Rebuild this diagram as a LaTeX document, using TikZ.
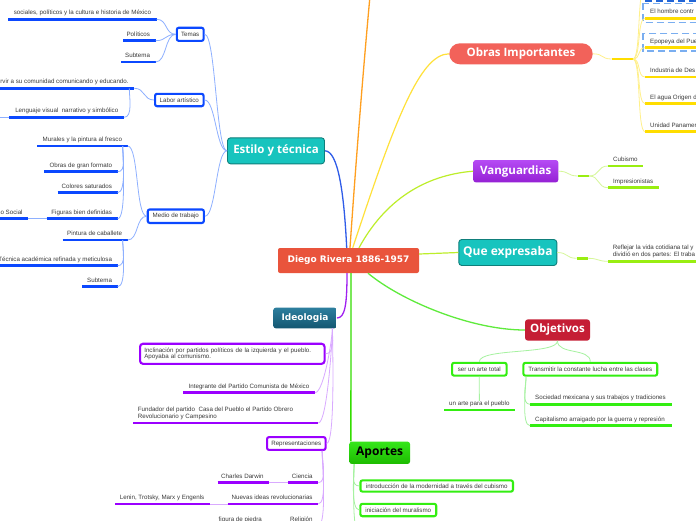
\documentclass[tikz,border=0pt]{standalone}
\usepackage{fontspec}
\setmainfont{Liberation Sans}
\newfontfamily\osans{Open Sans}
\newfontfamily\djsans{DejaVu Sans}
\usetikzlibrary{calc}
\definecolor{txt}{HTML}{3A3A3A}
\definecolor{rootc}{HTML}{E9543C}
\definecolor{tealc}{HTML}{17C4BE}
\definecolor{tealD}{HTML}{0F7F7B}
\definecolor{obrasc}{HTML}{F2625A}
\definecolor{vangT}{HTML}{B54BF4}
\definecolor{vangB}{HTML}{9520D4}
\definecolor{objc}{HTML}{C51E35}
\definecolor{apT}{HTML}{35E61A}
\definecolor{apB}{HTML}{1DBB00}
\definecolor{ideoT}{HTML}{2D7F9E}
\definecolor{ideoB}{HTML}{135671}
\definecolor{blueS}{HTML}{0B48FF}
\definecolor{blueL}{HTML}{8EB0FF}
\definecolor{blueM}{HTML}{2F5CE8}
\definecolor{orangeC}{HTML}{FF9F1F}
\definecolor{yellowM}{HTML}{FFE13A}
\definecolor{yellowS}{HTML}{FFDD00}
\definecolor{yellowL}{HTML}{FFF08A}
\definecolor{limeM}{HTML}{BDEE2A}
\definecolor{limeS}{HTML}{99EE11}
\definecolor{limeL}{HTML}{D6F79A}
\definecolor{objline}{RGB}{95,235,60}
\definecolor{greenA}{HTML}{33DD00}
\definecolor{greenS}{HTML}{33EE11}
\definecolor{greenL}{HTML}{A6F2A0}
\definecolor{purpM}{HTML}{A020F0}
\definecolor{purpS}{HTML}{9B00FF}
\definecolor{purpL}{HTML}{D9AAFF}
\definecolor{dashB}{HTML}{7AAEF0}
\definecolor{dashD}{HTML}{2265D6}
\tikzset{
  lt/.style={font=\fontsize{6.2}{6.7}\selectfont, text=txt, inner sep=0pt},
  topic/.style={font=\osans\bfseries\fontsize{11.5}{13}\selectfont, text=white, inner sep=0pt},
  tealbox/.style={topic, fill=tealc, draw=tealD, line width=0.9pt, rounded corners=3pt},
  rootbox/.style={font=\djsans\bfseries\fontsize{9}{11}\selectfont, text=white, inner sep=0pt, fill=rootc, rounded corners=2pt},
  ideobox/.style={font=\djsans\bfseries\fontsize{9}{11}\selectfont, text=white, inner sep=0pt, top color=ideoT, bottom color=ideoB, rounded corners=2.5pt},
  obox/.style={lt, fill=white, line width=2.1pt, rounded corners=2pt},
  ulB/.style={draw=blueS, line width=2.6pt},
  ulY/.style={draw=yellowS, line width=2.6pt},
  ulL/.style={draw=limeS, line width=2.6pt},
  ulG/.style={draw=greenS, line width=2.6pt},
  ulP/.style={draw=purpS, line width=2.6pt},
  cB/.style={draw=blueL, line width=0.8pt},
  cY/.style={draw=yellowL, line width=0.8pt},
  cL/.style={draw=limeL, line width=0.8pt},
  cG/.style={draw=greenL, line width=0.8pt},
  cP/.style={draw=purpL, line width=0.8pt},
  lft/.style={out=180,in=0,distance=11pt},
  rgt/.style={out=0,in=180,distance=11pt},
  dnl/.style={out=-90,in=0,distance=9pt},
  dnr/.style={out=-90,in=180,distance=9pt},
  dnv/.style={out=-90,in=90,distance=14pt},
  dashlt/.style={draw=dashB, line width=1.4pt, dash pattern=on 7pt off 4pt},
  dashdk/.style={draw=dashD, line width=1.4pt, dash pattern=on 7pt off 4pt},
  mainconn/.style={line width=1.3pt},
}
\newcommand\leafW[6]{%
  \draw[#2] (#3,#5) coordinate (#1L) -- (#4,#5) coordinate (#1R);
  \node[lt,anchor=base west] (#1) at ({#3+5},{#5-4.5}) {#6};}
\newcommand\leafE[6]{%
  \draw[#2] (#3,#5) coordinate (#1L) -- (#4,#5) coordinate (#1R);
  \node[lt,anchor=base east] (#1) at ({#4-5.5},{#5-4.5}) {#6};}
\begin{document}
\begin{tikzpicture}[x=1pt,y=-1pt]
\useasboundingbox (0,0) rectangle (696,520);
\fill[white] (0,0) rectangle (696,520);
% ---------- main topics
\node[rootbox, minimum width=141pt, minimum height=25pt] (root) at (348.5,260.5) {Diego Rivera 1886-1957};
\node[tealbox, minimum width=97pt, minimum height=26pt] (estilo) at (276,150.8) {Estilo y técnica};
\node[topic, fill=obrasc, rounded corners=10.5pt, minimum width=143.4pt, minimum height=21pt] (obras) at (521,53.8) {Obras Importantes};
\node[topic, top color=vangT, bottom color=vangB, rounded corners=2.5pt, minimum width=85pt, minimum height=22.3pt] (vang) at (515.8,171.2) {Vanguardias};
\node[tealbox, font=\osans\bfseries\fontsize{12}{14}\selectfont, minimum width=98pt, minimum height=26pt] (qe) at (507.8,252.5) {Que expresaba};
\node[topic, fill=objc, rounded corners=3pt, minimum width=65pt, minimum height=21.4pt] (obj) at (557.5,330) {Objetivos};
\node[topic, text=black, font=\osans\bfseries\fontsize{12}{14}\selectfont, top color=apT, bottom color=apB, rounded corners=2.5pt, minimum width=60.7pt, minimum height=22.3pt] (aportes) at (379.7,452.8) {Aportes};
\node[ideobox, minimum width=63.4pt, minimum height=20.6pt] (ideo) at (305,318) {Ideologia};
% ---------- outlined boxes
\node[obox, draw=blueS, minimum width=26.8pt, minimum height=13.1pt] (temas) at (190.2,34.3) {Temas};
\node[obox, draw=blueS, minimum width=48.5pt, minimum height=12.4pt] (labor) at (179.3,100) {Labor artístico};
\node[obox, draw=blueS, minimum width=56.1pt, minimum height=13.5pt] (medio) at (175.8,216.2) {Medio de trabajo};
\node[obox, draw=greenS, minimum width=54.5pt, minimum height=12.8pt] (ser) at (479.3,369.2) {ser un arte total};
\node[obox, draw=greenS, minimum width=133.8pt, minimum height=12.8pt] (trans) at (590.3,369.2) {Transmitir la constante lucha entre las clases};
\node[obox, draw=greenS, minimum width=152.5pt, minimum height=11.2pt] (intro) at (436.7,486) {introducción de la modernidad a través del cubismo};
\node[obox, draw=greenS, minimum width=75.8pt, minimum height=12.4pt] (inic) at (398.3,510) {iniciación del muralismo};
\node[obox, draw=purpS, rounded corners=3pt, minimum width=184.5pt, minimum height=20.1pt, text width=176pt, align=left, inner xsep=4pt] (incl) at (232.3,353.8) {Inclinación por partidos políticos de la izquierda y el pueblo.\\ Apoyaba al comunismo.};
\node[obox, draw=purpS, minimum width=58.5pt, minimum height=12.8pt] (repr) at (296.3,443.5) {Representaciones};
% ---------- dashed boxes (Obras)
\draw[dashdk] (643,-30) rectangle (720,1);
\draw[dashlt] (643,3.3) rectangle (720,22.7);
\draw[dashlt] (643,33.3) rectangle (720,51);
% ---------- leaves: Obras
\leafW{obA}{ulY}{645}{700}{18.3}{El hombre contr}
\leafW{obB}{ulY}{645}{700}{47.7}{Epopeya del Pue}
\leafW{obC}{ulY}{645}{700}{77}{Industria de Des}
\leafW{obD}{ulY}{645}{700}{103.7}{El agua Origen d}
\leafW{obE}{ulY}{645}{700}{131.7}{Unidad Panameri}
% Vanguardias
\leafW{cub}{ulL}{608}{642.7}{166}{Cubismo}
\leafW{imp}{ulL}{608}{659}{187.7}{Impresionistas}
% Que expresaba
\draw[ulL] (608,261.3) coordinate (reflL) -- (700,261.3) coordinate (reflR);
\node[lt, align=left, anchor=north west] (refl) at (612.7,245.3) {Reflejar la vida cotidiana tal y\\ dividió en dos partes: El traba};
% Objetivos
\leafW{pueblo}{ulG}{444}{515}{410}{un arte para el pueblo}
\leafW{soc}{ulG}{530}{671.7}{404.3}{Sociedad mexicana y sus trabajos y tradiciones}
\leafW{capi}{ulG}{530}{671.7}{425.7}{Capitalismo arraigado por la guerra y represión}
% Ideologia
\leafE{integ}{ulP}{183.3}{315}{392.7}{Integrante del Partido Comunista de México}
\draw[ulP] (133.3,423) coordinate (fundL) -- (318.3,423) coordinate (fundR);
\node[lt, align=left, anchor=north west] (fund) at (137.7,406.9) {Fundador del partido \ Casa del Pueblo el Partido Obrero\\ Revolucionario y Campesino};
\leafE{cien}{ulP}{288.3}{318.3}{482.7}{Ciencia}
\leafE{darw}{ulP}{217.7}{269.3}{482.7}{Charles Darwin}
\leafE{nuev}{ulP}{227.7}{318.3}{504}{Nuevas ideas revolucionarias}
\leafE{lenin}{ulP}{115}{210}{504}{Lenin, Trotsky, Marx y Engenls}
\leafE{relig}{ulP}{285}{318.3}{525.5}{Religión}
\leafE{figu}{ulP}{214}{267.5}{525.5}{figura de piedra}
% Estilo
\leafE{socA}{ulB}{8.3}{156.7}{19.3}{sociales, políticos y la cultura e historia de México}
\leafE{pol}{ulB}{123.3}{155.7}{40.7}{Políticos}
\leafE{subA}{ulB}{121}{155.7}{62}{Subtema}
\leafE{rvir}{ulB}{-5}{134.3}{88.3}{rvir a su comunidad comunicando y educando.}
\leafE{leng}{ulB}{9.3}{124}{117.3}{Lenguaje visual \ narrativo y simbólico}
\leafE{mur}{ulB}{37.3}{127.7}{146}{Murales y la pintura al fresco}
\leafE{obr}{ulB}{44.3}{117.7}{171.7}{Obras de gran formato}
\leafE{col}{ulB}{57.7}{117.7}{192.7}{Colores saturados}
\leafE{fig}{ulB}{46.7}{117.7}{218.7}{Figuras bien definidas}
\leafE{real}{ulB}{-5}{28.3}{218.7}{no Social}
\leafE{pint}{ulB}{62.7}{127.7}{240}{Pintura de caballete}
\leafE{tec}{ulB}{-5}{117.7}{265.7}{Técnica académica refinada y meticulosa}
\leafE{subB}{ulB}{82.3}{117.7}{286.7}{Subtema}
% ---------- off-page ends
\coordinate (otop) at (371,-15);
\coordinate (obtop) at (645,-14);
\coordinate (apmore) at (360,535);
\coordinate (lengmore) at (-10,117.3);
% ---------- root connectors
\draw[mainconn, draw=blueM] ($(root.north)+(-1.8,0)$) .. controls (344,192) and (338,151) .. (estilo.east);
\draw[mainconn, draw=orangeC] ($(root.north)+(1.5,0)$) .. controls (356,160) and (364,60) .. (otop);
\draw[mainconn, draw=yellowM, line width=1.2pt] ($(root.north)+(4.2,0)$) .. controls (395,120) and (420,54) .. (obras.west);
\draw[mainconn, draw=limeM, line width=1.2pt] ($(root.north)+(10.5,0)$) .. controls (385,200) and (425,175) .. (vang.west);
\draw[mainconn, draw=limeM, line width=1.2pt] ($(root.east)+(0,-6.5)$) -- (qe.west);
\draw[mainconn, draw=purpM] ($(root.south)+(-1.5,0)$) .. controls (347,305) and (345,318) .. (ideo.east);
\draw[mainconn, draw=greenA] ($(root.south)+(2.5,0)$) -- ($(aportes.north west)+(1.7,0)$);
\draw[mainconn, draw=objline] ($(root.south)+(19.5,0)$) .. controls (400,300) and (470,330) .. (obj.west);
% ---------- Obras subtree
\coordinate (obs1) at (611.7,59);
\coordinate (obs2) at (633,59);
\draw[cY] (obras.east) to[rgt] (obs1);
\draw[draw=yellowS, line width=2.6pt] (obs1) -- (obs2);
\foreach \t in {obAL,obBL,obCL,obDL,obEL,obtop} \draw[cY] (obs2) to[out=0,in=180,distance=8pt] (\t);
% ---------- Vanguardias subtree
\coordinate (vs1) at (578,176);
\coordinate (vs2) at (589,176);
\draw[cL] (vang.east) to[rgt] (vs1);
\draw[draw=limeS, line width=2.6pt] (vs1) -- (vs2);
\draw[cL] (vs2) to[rgt] (cubL);
\draw[cL] (vs2) to[rgt] (impL);
% ---------- Que expresaba subtree
\coordinate (qs1) at (576.7,258.3);
\coordinate (qs2) at (588,258.3);
\draw[cL] (qe.east) to[rgt] (qs1);
\draw[draw=limeS, line width=2.6pt] (qs1) -- (qs2);
\draw[cL] (qs2) to[rgt] (reflL);
% ---------- Objetivos subtree
\draw[cG] (obj.south) to[dnv] (ser.north);
\draw[cG] (obj.south) to[dnv] (trans.north);
\draw[cG] (ser.south) -- (pueblo.north);
\draw[cG] ($(trans.south west)+(3.7,0)$) to[dnr] (socL);
\draw[cG] ($(trans.south west)+(3.7,0)$) to[dnr] (capiL);
% ---------- Aportes subtree
\draw[cG] ($(aportes.south west)+(5,0)$) to[dnr] (intro.west);
\draw[cG] ($(aportes.south west)+(5,0)$) to[dnr] (inic.west);
\draw[cG] ($(aportes.south west)+(5,0)$) to[dnr] (apmore);
% ---------- Ideologia subtree
\foreach \t in {incl.east,integR,fundR,repr.east} \draw[cP] ($(ideo.south east)+(-4.5,0)$) to[dnl] (\t);
\foreach \t in {cienR,nuevR,religR} \draw[cP] ($(repr.south east)+(-4.5,0)$) to[dnl] (\t);
\draw[cP] (cienL) -- (darwR);
\draw[cP] (nuevL) -- (leninR);
\draw[cP] (religL) -- (figuR);
% ---------- Estilo subtree
\draw[cB] (estilo.west) to[lft] (temas.east);
\draw[cB] (estilo.west) to[lft] (labor.east);
\draw[cB] (estilo.west) to[lft] (medio.east);
\foreach \t in {socAR,polR,subAR} \draw[cB] (temas.west) to[lft] (\t);
\draw[cB] (labor.west) to[lft] (rvirR);
\draw[cB] ($(rvirR)+(-5,0)$) to[dnl] (lengR);
\draw[cB] (lengL) -- (lengmore);
\draw[cB] (medio.west) to[lft] (murR);
\draw[cB] (medio.west) to[lft] (pintR);
\foreach \t in {obrR,colR,figR} \draw[cB] ($(murR)+(-5,0)$) to[dnl] (\t);
\foreach \t in {tecR,subBR} \draw[cB] ($(pintR)+(-5,0)$) to[dnl] (\t);
\draw[cB] (figL) -- (realR);
\end{tikzpicture}
\end{document}
